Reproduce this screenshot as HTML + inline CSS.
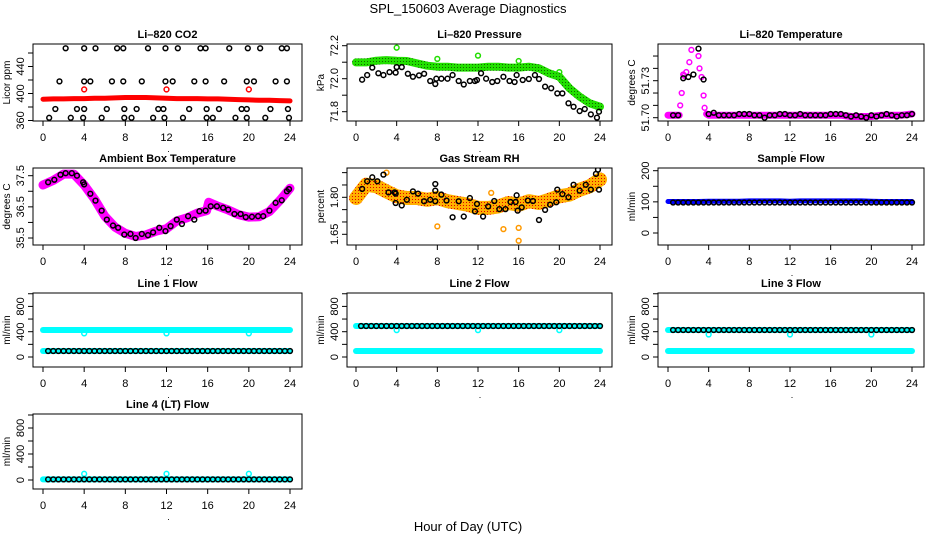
<!DOCTYPE html>
<html><head><meta charset="utf-8"><style>
html,body{margin:0;padding:0;background:#fff;}
svg{display:block;font-family:"Liberation Sans",sans-serif;}
</style></head><body>
<svg id="c" width="936" height="540" viewBox="0 0 936 540" xmlns="http://www.w3.org/2000/svg">
<defs>
<pattern id="patRH" width="3" height="3" patternUnits="userSpaceOnUse"><rect width="3" height="3" fill="#ffb000"/><rect x="1" y="1" width="1" height="1" fill="#e00000"/></pattern>
<pattern id="patG" width="3" height="3" patternUnits="userSpaceOnUse"><rect width="3" height="3" fill="#22e000"/><rect x="1" y="1" width="1" height="1" fill="#116600"/></pattern>
</defs>
<text x="468" y="13" text-anchor="middle" font-size="13">SPL_150603  Average Diagnostics</text>
<text x="468" y="531" text-anchor="middle" font-size="13">Hour of Day (UTC)</text>
</svg>
<script>
// ---------- data ----------
const xTicks=[0,4,8,12,16,20,24];
const HH=[0.5,1,1.5,2,2.5,3,3.5,4,4.5,5,5.5,6,6.5,7,7.5,8,8.5,9,9.5,10,10.5,11,11.5,12,12.5,13,13.5,14,14.5,15,15.5,16,16.5,17,17.5,18,18.5,19,19.5,20,20.5,21,21.5,22,22.5,23,23.5,24];
const HOURS=[0,1,2,3,4,5,6,7,8,9,10,11,12,13,14,15,16,17,18,19,20,21,22,23,24];
const OUT_H=[4,12,20];
// CO2
const co2Levels=[467,418,377,364];
const co2TopH=[2.2,4.0,5.1,7.2,7.8,10.2,11.9,13.1,15.3,15.8,18.1,19.9,21.1,23.2,23.7];
const co2MidH=[1.6,4.0,4.6,6.7,7.8,9.6,11.9,12.6,14.7,15.8,17.6,19.8,20.5,22.6,23.7];
const co2LowH=[1.2,3.3,4.0,6.2,7.9,9.1,11.2,11.7,14.2,15.9,17.1,19.3,19.8,22.1,23.8];
const co2BotH=[0.6,2.7,3.9,5.7,7.9,8.6,10.7,11.8,13.6,15.9,16.5,18.7,19.8,21.6,23.9];
const co2Red=[391.5,392,392,392.5,392.5,393,393,393.5,394,394,394,393.5,393,392.5,392.5,392.5,392,392,391.5,391,390.5,390,390,389.5,389];
const co2RedOut=[406,406,406];
// Pressure
const presGreen=[72.099,72.099,72.109,72.113,72.109,72.107,72.093,72.079,72.073,72.073,72.067,72.067,72.067,72.073,72.073,72.067,72.067,72.073,72.063,72.033,72.012,71.942,71.891,71.851,71.83];
const presOutH=[4,8,12,16,20];
const presOutV=[72.188,72.12,72.14,72.107,72.04];
const presH=[0.6,1.1,1.6,2.2,2.7,3.3,3.9,4.0,4.5,5.1,5.6,6.2,6.7,7.3,7.8,7.9,8.4,9.0,9.5,10.1,10.6,11.2,11.7,11.9,12.3,12.8,13.4,13.9,14.5,15.1,15.6,15.8,16.4,17.0,17.6,18.0,18.6,19.2,19.8,20.3,20.9,21.4,22.0,22.5,23.1,23.7,23.9];
const presV=[71.994,72.022,72.067,72.033,72.022,72.04,72.037,72.07,72.07,72.03,72.012,72.02,72.03,71.986,71.968,72.0,72.0,72.0,72.022,71.986,71.965,71.986,71.986,71.992,72.033,72.0,71.98,71.986,72.012,71.986,71.98,72.022,71.992,71.998,72.022,71.998,71.952,71.942,71.911,71.911,71.851,71.83,71.804,71.816,71.784,71.764,71.8];
// Li-820 temperature
const tBandH=[0,0.5,1.1,3.8,4,5,6,7,8,9,10,11,12,13,14,15,16,17,18,19,20,21,22,23,24];
const tBandV=[51.702,51.702,51.702,51.703,51.702,51.702,51.702,51.702,51.702,51.702,51.702,51.702,51.702,51.702,51.702,51.702,51.702,51.702,51.701,51.701,51.701,51.702,51.702,51.702,51.703];
const tMagH=[1.2,1.35,1.5,1.6,1.8,2.1,2.3,2.5,2.7,2.9,3.0,3.1,3.3,3.5,3.6,3.8];
const tMagV=[51.71,51.72,51.735,51.734,51.737,51.745,51.755,51.765,51.77,51.765,51.75,51.74,51.733,51.718,51.708,51.703];
const tBlack=[51.702,51.702,51.732,51.733,51.735,51.756,51.731,51.703,51.704,51.702,51.702,51.702,51.702,51.703,51.703,51.703,51.702,51.702,51.700,51.702,51.702,51.703,51.703,51.702,51.702,51.703,51.702,51.702,51.702,51.702,51.702,51.703,51.703,51.703,51.702,51.701,51.702,51.701,51.700,51.702,51.701,51.702,51.703,51.702,51.701,51.702,51.702,51.703];
// Ambient
const ambBandH=[0,1,2,3,4,5,6,7,8,9,10,11,12,13,14,15,15.9,16.1,17,18,19,20,21,22,23,24];
const ambBandV=[37.2,37.35,37.55,37.55,37.2,36.75,36.2,35.85,35.65,35.55,35.6,35.72,35.8,36.05,36.15,36.3,36.38,36.65,36.52,36.4,36.25,36.17,36.18,36.35,36.7,37.1];
const ambH=[0.5,1.1,1.7,2.2,2.8,3.3,3.9,4.0,4.6,5.1,5.7,6.2,6.8,7.3,7.9,8.5,9.0,9.6,10.2,10.7,11.3,11.9,12.4,13.0,13.5,14.1,14.7,15.2,15.8,16.3,16.9,17.5,18.0,18.6,19.2,19.7,20.3,20.9,21.4,22.0,22.6,23.2,23.7,23.9];
const ambV=[37.29,37.37,37.53,37.58,37.58,37.5,37.29,37.22,36.92,36.7,36.38,36.09,35.9,35.83,35.61,35.63,35.5,35.63,35.59,35.68,35.83,35.72,35.88,36.09,35.95,36.2,36.09,36.36,36.38,36.52,36.52,36.47,36.41,36.27,36.27,36.17,36.18,36.2,36.2,36.38,36.63,36.71,37.0,37.07];
// RH
const rhBand=[1.797,1.851,1.845,1.824,1.804,1.797,1.797,1.790,1.797,1.784,1.777,1.770,1.757,1.757,1.763,1.777,1.770,1.784,1.777,1.790,1.804,1.811,1.831,1.845,1.872];
const rhOutH=[3,8,14.5,16,16,13.3];
const rhOutV=[1.9,1.682,1.671,1.676,1.624,1.818];
const rhH=[0.6,1.1,1.6,2.1,2.7,3.2,3.8,3.9,3.9,4.5,5.0,5.6,6.1,6.7,7.3,7.8,7.8,7.8,8.4,8.9,9.5,10.1,10.6,11.2,11.7,11.9,12.5,13.0,13.6,14.1,14.7,15.2,15.7,15.8,15.9,16.3,16.9,17.4,18.0,18.6,19.1,19.7,19.8,20.3,20.9,21.4,22.0,22.6,23.1,23.6,23.8,23.9];
const rhV=[1.834,1.865,1.881,1.865,1.892,1.820,1.820,1.815,1.777,1.767,1.790,1.824,1.815,1.784,1.790,1.784,1.854,1.827,1.811,1.787,1.719,1.784,1.722,1.797,1.743,1.773,1.722,1.763,1.785,1.752,1.752,1.781,1.781,1.808,1.746,1.759,1.787,1.785,1.708,1.749,1.770,1.780,1.831,1.813,1.800,1.851,1.827,1.851,1.831,1.895,1.912,1.831];
// Sample flow
const sampBlue=[101,101,101,101,102,102,102,102,103,103,103,103,102,103,103,103,103,103,103,103,102,101,101,101,101];
const sampBlack=[98,98,98,98,98,98,98,98,98,98,98,98,98,98,98,98,98,98,98,98,98,98,98,98,98,98,98,98,98,98,98,98,98,98,98,98,98,98,98,98,98,98,98,98,98,98,98,98];
// Line flows
const l1High=[427,427,427,427,427,427,427,427,427,427,427,427,427,427,427,427,427,427,427,427,427,427,427,427,427];
const l1Low=[95,95,95,95,95,95,95,95,95,95,95,95,95,95,95,95,95,95,95,95,95,95,95,95,95];
const l1Black=[95,95,95,95,95,95,95,95,95,95,95,95,95,95,95,95,95,95,95,95,95,95,95,95,95,95,95,95,95,95,95,95,95,95,95,95,95,95,95,95,95,95,95,95,95,95,95,95];
const l1Out=[374,374,374];
const l2High=[490,490,490,490,490,490,490,490,490,490,490,490,490,490,490,490,490,490,490,490,490,490,490,490,490];
const l2Low=[95,95,95,95,95,95,95,95,95,95,95,95,95,95,95,95,95,95,95,95,95,95,95,95,95];
const l2Black=[490,490,490,490,490,490,490,490,490,490,490,490,490,490,490,490,490,490,490,490,490,490,490,490,490,490,490,490,490,490,490,490,490,490,490,490,490,490,490,490,490,490,490,490,490,490,490,490];
const l2Out=[425,425,425];
const l3High=[427,427,427,427,427,427,427,427,427,427,427,427,427,427,427,427,427,427,427,427,427,427,427,427,427];
const l3Low=[95,95,95,95,95,95,95,95,95,95,95,95,95,95,95,95,95,95,95,95,95,95,95,95,95];
const l3Black=[427,427,427,427,427,427,427,427,427,427,427,427,427,427,427,427,427,427,427,427,427,427,427,427,427,427,427,427,427,427,427,427,427,427,427,427,427,427,427,427,427,427,427,427,427,427,427,427];
const l3Out=[356,356,356];
const l4Band=[10,10,10,10,10,10,10,10,10,10,10,10,10,10,10,10,10,10,10,10,10,10,10,10,10];
const l4Black=[10,10,10,10,10,10,10,10,10,10,10,10,10,10,10,10,10,10,10,10,10,10,10,10,10,10,10,10,10,10,10,10,10,10,10,10,10,10,10,10,10,10,10,10,10,10,10,10];
const l4Out=[95,95,95];

// ---------- drawing ----------
const NS="http://www.w3.org/2000/svg";
const svg=document.getElementById('c');
function mk(tag,attrs,parent){const e=document.createElementNS(NS,tag);for(const k in attrs)e.setAttribute(k,attrs[k]);(parent||svg).appendChild(e);return e;}
const COLS=[{b0:33,b1:302,x0:43,x24:290},{b0:347,b1:612,x0:356,x24:600},{b0:658,b1:924,x0:668,x24:912}];
const ROWS=[{t:44,b:121},{t:168,b:245},{t:293,b:367},{t:414,b:489}];
let pid=0;
function panel(ci,ri,title,ytitle,v0,p0,v1,p1,yt,ylab,name){
  const c=COLS[ci],r=ROWS[ri];pid++;
  const g=mk('g',{});
  
  
  const X=h=>c.x0+(c.x24-c.x0)*h/24;
  const Y=v=>p0+(v-v0)*(p1-p0)/(v1-v0);
  const cp=mk('clipPath',{id:'cp'+pid},g);mk('rect',{x:c.b0,y:r.t,width:c.b1-c.b0,height:r.b-r.t},cp);
  const plot=mk('g',{'clip-path':'url(#cp'+pid+')'},g);
  
  
  const box=mk('rect',{x:c.b0,y:r.t,width:c.b1-c.b0,height:r.b-r.t,fill:'none',stroke:'#000','stroke-width':1},g);
  
  
  const t=mk('text',{x:(c.b0+c.b1)/2,y:r.t-6,'text-anchor':'middle','font-size':11,'font-weight':'bold'},g);t.textContent=title;
  
  
  const yc=(r.t+r.b)/2;
  const yt2=mk('text',{x:0,y:0,'text-anchor':'middle','font-size':10,transform:`translate(${c.b0-23},${yc}) rotate(-90)`},g);yt2.textContent=ytitle;
  
  
  xTicks.forEach(h=>{
    const tk=mk('line',{x1:X(h),x2:X(h),y1:r.b,y2:r.b+5,stroke:'#000'},g);
    
    
    const tl=mk('text',{x:X(h),y:r.b+20,'text-anchor':'middle','font-size':11},g);tl.textContent=h;
    
    
  });
  yt.forEach((v,i)=>{
    const tk=mk('line',{x1:c.b0-5,x2:c.b0,y1:Y(v),y2:Y(v),stroke:'#000'},g);
    
    
    if(ylab[i]){const tl=mk('text',{x:0,y:0,'text-anchor':'middle','font-size':11,transform:`translate(${c.b0-9},${Y(v)}) rotate(-90)`},g);tl.textContent=ylab[i];
      
      }
  });
  const dot=mk('text',{x:(c.x0+c.x24)/2+2,y:r.b+31,'font-size':9,'text-anchor':'middle'},g);dot.textContent='.';
  
  
  return {plot,X,Y};
}
function band(P,hs,vs,color,w,name){
  const pts=hs.map((h,i)=>P.X(h).toFixed(1)+','+P.Y(vs[i]).toFixed(1)).join(' ');
  const e=mk('polyline',{points:pts,fill:'none',stroke:color,'stroke-width':w,'stroke-linejoin':'round','stroke-linecap':'round'},P.plot);
  
  
}
function pts(P,hs,vs,color,name,r){
  hs.forEach((h,i)=>{
    const e=mk('circle',{cx:P.X(h),cy:P.Y(vs[i]),r:r||2.4,fill:'none',stroke:color,'stroke-width':1.5},P.plot);
    
    
  });
}
function same(arr,v){return arr.map(()=>v);}

// CO2
let P=panel(0,0,'Li\u2013820 CO2','Licor ppm',360,120.5,440,66.5,[360,380,400,420,440,460],['360','','400','','440',''],'panel-co2');
band(P,HOURS,co2Red,'#ff0000',5,'co2-red-series');
pts(P,OUT_H,co2RedOut,'#ff0000','co2-red-point');
[co2TopH,co2MidH,co2LowH,co2BotH].forEach((arr,i)=>pts(P,arr,same(arr,co2Levels[i]),'#000','co2-black-point'));
// Pressure
P=panel(1,0,'Li\u2013820 Pressure','kPa',71.8,111.7,72.2,45.7,[71.8,71.9,72.0,72.1,72.2],['71.8','','72.0','','72.2'],'panel-pressure');
band(P,HOURS,presGreen,'url(#patG)',8,'pressure-green-series');
pts(P,presOutH,presOutV,'#22dd00','pressure-green-point');
pts(P,presH,presV,'#000','pressure-black-point');
// Temperature
P=panel(2,0,'Li\u2013820 Temperature','degrees C',51.70,117.7,51.73,80.7,[51.70,51.71,51.72,51.73,51.74,51.75],['51.70','','','51.73','',''],'panel-li820-temperature');
band(P,tBandH.slice(0,3),tBandV.slice(0,3),'#ff00ff',7,'temperature-magenta-series');
band(P,tBandH.slice(3),tBandV.slice(3),'#ff00ff',7,'temperature-magenta-series');
pts(P,tMagH,tMagV,'#ff00ff','temperature-magenta-point');
pts(P,HH,tBlack,'#000','temperature-black-point');
// Ambient
P=panel(0,1,'Ambient Box Temperature','degrees C',35.5,238,37.5,175.7,[35.5,36,36.5,37,37.5],['35.5','','36.5','','37.5'],'panel-ambient-temperature');
band(P,ambBandH,ambBandV,'#ff00ff',9,'ambient-magenta-series');
pts(P,ambH,ambV,'#000','ambient-black-point');
// RH
P=panel(1,1,'Gas Stream RH','percent',1.65,234.3,1.80,197.3,[1.65,1.70,1.75,1.80,1.85,1.90],['1.65','','','1.80','',''],'panel-gas-rh');
band(P,HOURS,rhBand,'url(#patRH)',14,'rh-orange-series');
pts(P,rhOutH,rhOutV,'#ff9900','rh-orange-point');
pts(P,rhH,rhV,'#000','rh-black-point');
// Sample flow
P=panel(2,1,'Sample Flow','ml/min',0,233,200,170.7,[0,50,100,150,200],['0','','100','','200'],'panel-sample-flow');
band(P,HOURS,sampBlue,'#0000ff',5,'sample-blue-series');
pts(P,HH,sampBlack,'#000','sample-black-point');
// Lines
const flowT=[0,200,400,600,800,1000],flowL=['0','','400','','800',''];
P=panel(0,2,'Line 1 Flow','ml/min',0,357,400,331.7,flowT,flowL,'panel-line1-flow');
band(P,HOURS,l1High,'#00ffff',6,'line1-cyan-high');band(P,HOURS,l1Low,'#00ffff',6,'line1-cyan-low');
pts(P,OUT_H,l1Out,'#00ffff','line1-cyan-point');pts(P,HH,l1Black,'#000','line1-black-point');
P=panel(1,2,'Line 2 Flow','ml/min',0,357,400,331.7,flowT,flowL,'panel-line2-flow');
band(P,HOURS,l2High,'#00ffff',6,'line2-cyan-high');band(P,HOURS,l2Low,'#00ffff',6,'line2-cyan-low');
pts(P,OUT_H,l2Out,'#00ffff','line2-cyan-point');pts(P,HH,l2Black,'#000','line2-black-point');
P=panel(2,2,'Line 3 Flow','ml/min',0,357,400,331.7,flowT,flowL,'panel-line3-flow');
band(P,HOURS,l3High,'#00ffff',6,'line3-cyan-high');band(P,HOURS,l3Low,'#00ffff',6,'line3-cyan-low');
pts(P,OUT_H,l3Out,'#00ffff','line3-cyan-point');pts(P,HH,l3Black,'#000','line3-black-point');
P=panel(0,3,'Line 4 (LT) Flow','ml/min',0,480,400,454,flowT,flowL,'panel-line4-flow');
band(P,HOURS,l4Band,'#00ffff',6,'line4-cyan-series');
pts(P,OUT_H,l4Out,'#00ffff','line4-cyan-point');pts(P,HH,l4Black,'#000','line4-black-point');
</script>
</body></html>
